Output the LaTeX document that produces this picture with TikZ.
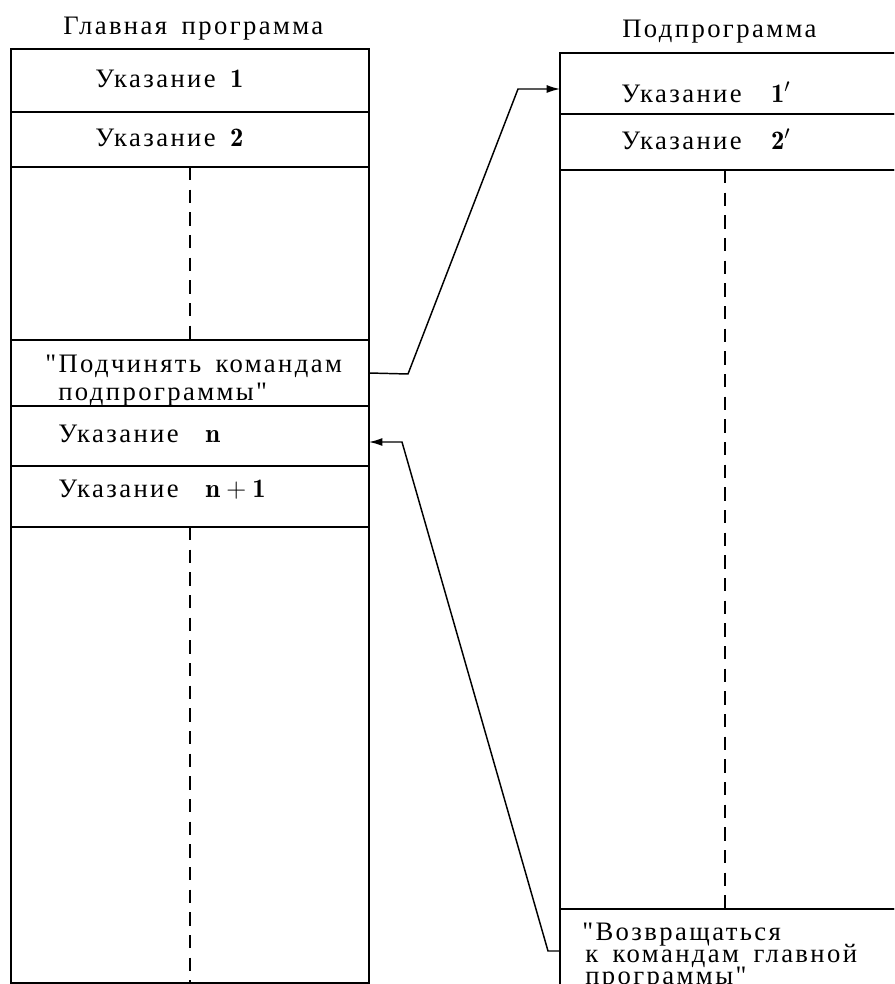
\documentclass[tikz,border=0pt]{standalone}
\usepackage{fontspec}
\newfontfamily\typew{Liberation Serif}[LetterSpace=9.0,WordSpace=1.6]
\usetikzlibrary{arrows.meta}

\begin{document}
\begin{tikzpicture}[x=0.75pt,y=0.75pt,yscale=-1,xscale=1,
  cell/.style={draw, line width=1.2pt, anchor=north west, inner sep=0pt, outer sep=0pt, minimum width=268.5pt},
  subcell/.style={cell, minimum width=300pt},
  txt/.style={inner sep=0pt, anchor=base west, font=\typew\fontsize{20}{21}\selectfont},
  gapline/.style={line width=1.5pt, dash pattern=on 10pt off 7pt},
  jump/.style={line width=1.1pt, -{Latex[length=10pt,width=6pt]}}]
\useasboundingbox (0,0) rectangle (894,984);
\clip (0,0) rectangle (894,984);

%Main program cells
\node[cell, minimum height=47.25pt] (r1) at (11,49) {};
\node[cell, minimum height=41.25pt] (r2) at (r1.south west) {};
\node[cell, minimum height=129.75pt] (g1) at (r2.south west) {};
\node[cell, minimum height=49.5pt] (call) at (g1.south west) {};
\node[cell, minimum height=45pt] (rn) at (call.south west) {};
\node[cell, minimum height=45.75pt] (rn1) at (rn.south west) {};
\node[cell, minimum height=342pt] (g2) at (rn1.south west) {};

%Subprogram cells
\node[subcell, minimum height=45.75pt] (s1) at (560,53) {};
\node[subcell, minimum height=42pt] (s2) at (s1.south west) {};
\node[subcell, minimum height=554.25pt] (sg) at (s2.south west) {};
\node[subcell, minimum height=98.25pt] (ret) at (sg.south west) {};

%Dashed gaps
\draw[gapline] (g1.north) -- (g1.south);
\draw[gapline] (g2.north) -- (g2.south);
\draw[gapline] ([xshift=123.75pt]sg.north west) -- ([xshift=123.75pt]sg.south west);

%Call and return lines
\coordinate (b1) at (408,374);
\coordinate (b2) at (518,89);
\draw[jump] (call.east) -- (b1) -- (b2) -- (b2 -| s1.west);
\coordinate (b3) at (548,951);
\coordinate (b4) at (402,442);
\draw[jump] (b3 -| ret.west) -- (b3) -- (b4) -- (b4 -| rn.east);

% Text Node
\node[txt] (mainttl) at (63,35) {Главная программа};
% Text Node
\node[txt] (subttl) at (622,38) {Подпрограмма};
% Text Node
\node[txt] (t1) at (95,88) {Указание $\mathbf{1}$};
% Text Node
\node[txt] (t2) at (95,147) {Указание $\mathbf{2}$};
% Text Node
\node[txt] (tcall1) at (45,372) {"Подчинять командам};
% Text Node
\node[txt] (tcall2) at (58,400) {подпрограммы"};
% Text Node
\node[txt] (tn) at (58,442) {Указание\hspace{20pt}$\mathbf{n}$};
% Text Node
\node[txt] (tn1) at (58,497) {Указание\hspace{20pt}$\mathbf{n}+\mathbf{1}$};
% Text Node
\node[txt] (u1) at (621,103) {Указание\hspace{22pt}$\mathbf{1}'$};
% Text Node
\node[txt] (u2) at (621,150) {Указание\hspace{22pt}$\mathbf{2}'$};
% Text Node
\node[txt] (tret1) at (582,940) {"Возвращаться};
% Text Node
\node[txt] (tret2) at (585,962) {к командам главной};
% Text Node
\node[txt] (tret3) at (585,984) {программы"};

\end{tikzpicture}
\end{document}
